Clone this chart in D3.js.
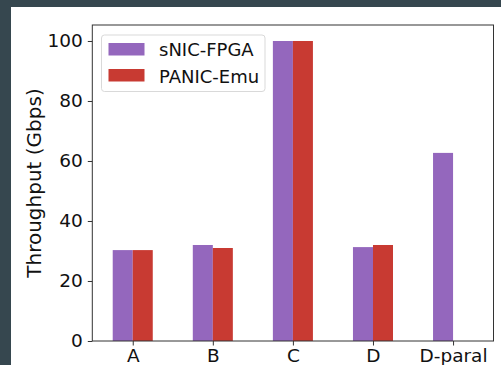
<!DOCTYPE html>
<html><head><meta charset="utf-8">
<script src="https://cdn.jsdelivr.net/npm/d3@7"></script>
<style>html,body{margin:0;padding:0;background:#36474f;}svg{display:block;}</style>
</head><body>
<svg id="c" width="501" height="365"></svg>
<script>
const categories = ["A", "B", "C", "D", "D-paral"];
const seriesNames = ["sNIC-FPGA", "PANIC-Emu"];
const sNIC = [30.3, 32.0, 100, 31.3, 62.7];
const panic = [30.3, 31.0, 100, 32.0, 0];
const yTicks = [0, 20, 40, 60, 80, 100];
const colors = ["#9467bd", "#c83a32"];

const svg = d3.select("#c");
svg.append("rect").attr("x", 11).attr("y", 7).attr("width", 490).attr("height", 358).attr("fill", "#ffffff");

const L = 92.3, R = 493.5, T = 25, B = 341;
const x = d3.scaleLinear().domain([-0.505, 4.505]).range([L, R]);
const y = d3.scaleLinear().domain([0, 105.33]).range([B, T]);
const bw = 0.25;

const series = [sNIC, panic];
series.forEach((vals, si) => {
  svg.append("g").selectAll("rect").data(vals).join("rect")
    .attr("x", (d, i) => x(i + (si === 0 ? -bw : 0)))
    .attr("width", x(bw) - x(0))
    .attr("y", d => y(d))
    .attr("height", d => y(0) - y(d))
    .attr("fill", colors[si]);
});

const font = "DejaVu Sans, sans-serif";
const yAxis = svg.append("g").attr("transform", `translate(${L},0)`)
  .call(d3.axisLeft(y).tickValues(yTicks).tickSize(4.5).tickPadding(5).tickFormat(d3.format("d")));
const xAxis = svg.append("g").attr("transform", `translate(0,${B})`)
  .call(d3.axisBottom(x).tickValues(d3.range(categories.length)).tickSize(4.5).tickPadding(3).tickFormat(i => categories[i]));
[yAxis, xAxis].forEach(g => {
  g.select(".domain").remove();
  g.selectAll("line").attr("stroke", "#333").attr("stroke-width", 1);
  g.selectAll("text").attr("fill", "#111").style("font-family", font).style("font-size", "18.5px");
});

// frame
svg.append("rect").attr("x", L).attr("y", T).attr("width", R - L).attr("height", B - T)
  .attr("fill", "none").attr("stroke", "#333").attr("stroke-width", 1);

svg.append("text").attr("transform", `translate(41,${(T + B) / 2}) rotate(-90)`)
  .attr("text-anchor", "middle").style("font-family", font).style("font-size", "20px").attr("fill", "#111")
  .text("Throughput (Gbps)");

// legend
const lg = svg.append("g");
lg.append("rect").attr("x", 101.5).attr("y", 35).attr("width", 163.5).attr("height", 56.5).attr("rx", 3)
  .attr("fill", "#ffffff").attr("fill-opacity", 0.8).attr("stroke", "#d9d9d9").attr("stroke-width", 1);
seriesNames.forEach((n, i) => {
  lg.append("rect").attr("x", 108.5).attr("y", 43 + i * 26).attr("width", 36).attr("height", 12.5).attr("fill", colors[i]);
  lg.append("text").attr("x", 159).attr("y", 56 + i * 26.5).style("font-family", font).style("font-size", "18px")
    .attr("fill", "#111").text(n);
});
</script>
</body></html>
